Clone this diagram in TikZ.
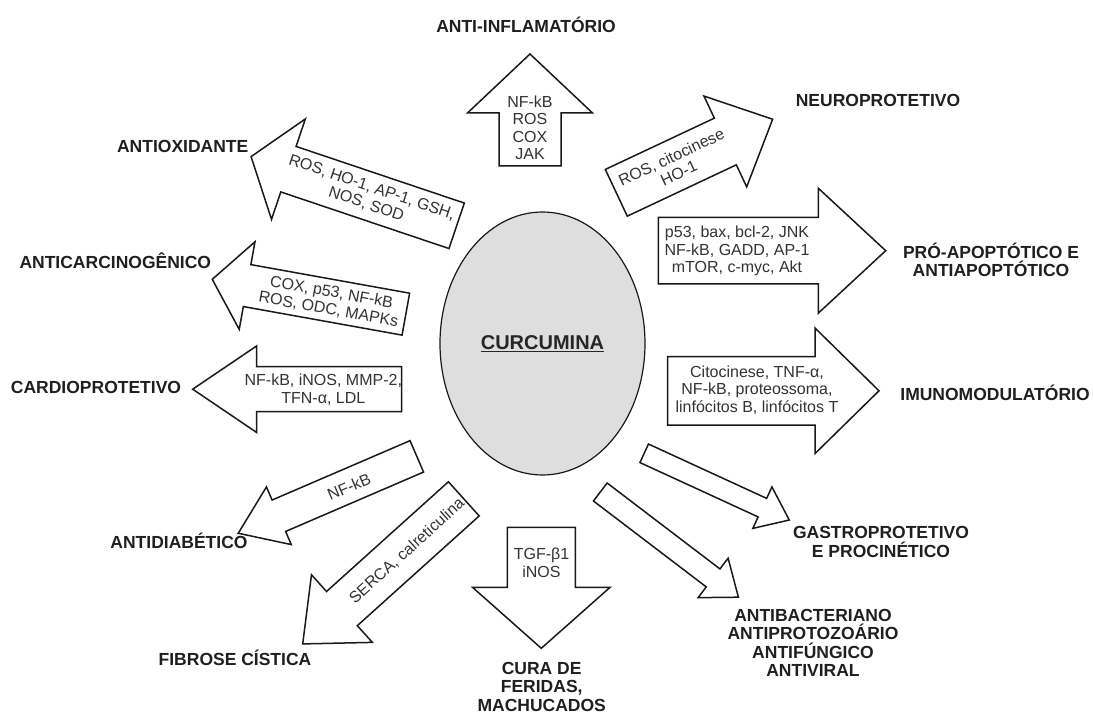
\documentclass[tikz,border=0pt]{standalone}
\usepackage{fontspec}
\setmainfont{Liberation Sans}
\usetikzlibrary{shapes.geometric}
\tikzset{
  arrowline/.style={draw=black!90, line width=1.5pt, line join=miter, fill=white},
  intext/.style={font=\fontsize{16}{17.5}\selectfont, text=black!80, align=center, inner sep=0pt},
  lbl/.style={font=\bfseries\fontsize{17.5}{18.5}\selectfont, text=black!88, align=center, inner sep=0pt},
  core/.style={ellipse, draw=black!90, line width=1.2pt, fill=black!13, minimum width=205pt, minimum height=263pt, inner sep=0pt, font=\bfseries\fontsize{20}{21}\selectfont, text=black!85}
}
% #1 tail centre, #2 angle, #3 total length, #4 head length, #5 shaft half width, #6 head half width
\newcommand\blockarrow[6]{%
  \begin{scope}[shift={(#1)}, rotate=#2]
    \path[arrowline] (0,-#5) -- ({#3-#4},-#5) -- ({#3-#4},-#6) -- (#3,0) -- ({#3-#4},#6) -- ({#3-#4},#5) -- (0,#5) -- cycle;
  \end{scope}}
\begin{document}
\begin{tikzpicture}[x=1pt, y=-1pt]
\useasboundingbox (0,0) rectangle (1093,714);

\node[core] (curc) at (542.5,343.5) {\underline{CURCUMINA}};

% arrows
\blockarrow{530,166}{90}{112}{59}{31}{62.5}
\blockarrow{616.3,192.8}{25.2}{172.8}{52.3}{25.8}{50.2}
\blockarrow{658.3,250.7}{0}{227.4}{67.4}{33.3}{62.5}
\blockarrow{667.7,390.8}{0}{211.3}{64}{34.2}{62.8}
\blockarrow{644.2,453.3}{-24.7}{159.7}{29.6}{10.2}{22.8}
\blockarrow{600.3,492}{-37.3}{173.6}{31.8}{11.3}{24.8}
\blockarrow{541.3,527.3}{-90}{121}{61}{34}{68.8}
\blockarrow{463.8,498.85}{222}{216.8}{52.8}{23}{45.5}
\blockarrow{416.8,456.35}{203.3}{194.4}{44.2}{17.1}{31.4}
\blockarrow{401.7,389.2}{180}{209}{64}{22.5}{43.3}
\blockarrow{405.85,314.15}{169.8}{196.7}{35.4}{21.3}{44.5}
\blockarrow{456.65,225.8}{161.4}{216.9}{39.4}{24}{53}

% texts inside arrows
\node[intext] (tinf) at (530,128) {NF-kB\\ROS\\COX\\JAK};
\node[intext, rotate=25.2] (tneu) at (675,165) {ROS, citocinese\\HO-1};
\node[intext] (tapo) at (737,251) {p53, bax, bcl-2, JNK\\NF-kB, GADD, AP-1\\mTOR, c-myc, Akt};
\node[intext] (timu) at (757,390) {Citocinese, TNF-α,\\NF-kB, proteossoma,\\linfócitos B, linfócitos T};
\node[intext] (tcur) at (541.5,563) {TGF-β1\\iNOS};
\node[intext, rotate=42] (tfib) at (407,551) {SERCA, calreticulina};
\node[intext, rotate=23.3] (tdia) at (349,486.5) {NF-kB};
\node[intext] (tcar) at (323.3,389.7) {NF-kB, iNOS, MMP-2,\\TFN-α, LDL};
\node[intext, rotate=-10.2] (tcan) at (330,301) {COX, p53, NF-kB\\ROS, ODC, MAPKs};
\node[intext, rotate=-18.6] (tox) at (369,196) {ROS, HO-1, AP-1, GSH,\\NOS, SOD};

% labels
\node[lbl] (linf) at (526,25) {ANTI-INFLAMATÓRIO};
\node[lbl] (lneu) at (878,100) {NEUROPROTETIVO};
\node[lbl] (lapo) at (991,260) {PRÓ-APOPTÓTICO E\\ANTIAPOPTÓTICO};
\node[lbl] (limu) at (995,393.3) {IMUNOMODULATÓRIO};
\node[lbl] (lgas) at (881,542) {GASTROPROTETIVO\\E PROCINÉTICO};
\node[lbl] (lbac) at (813,643) {ANTIBACTERIANO\\ANTIPROTOZOÁRIO\\ANTIFÚNGICO\\ANTIVIRAL};
\node[lbl] (lcur) at (541.7,686.5) {CURA DE\\FERIDAS,\\MACHUCADOS};
\node[lbl] (lfib) at (235,658.3) {FIBROSE CÍSTICA};
\node[lbl] (ldia) at (179,541) {ANTIDIABÉTICO};
\node[lbl] (lcar) at (96,387.7) {CARDIOPROTETIVO};
\node[lbl] (lcan) at (115.3,261) {ANTICARCINOGÊNICO};
\node[lbl] (lox) at (182.7,146.7) {ANTIOXIDANTE};
\end{tikzpicture}
\end{document}
